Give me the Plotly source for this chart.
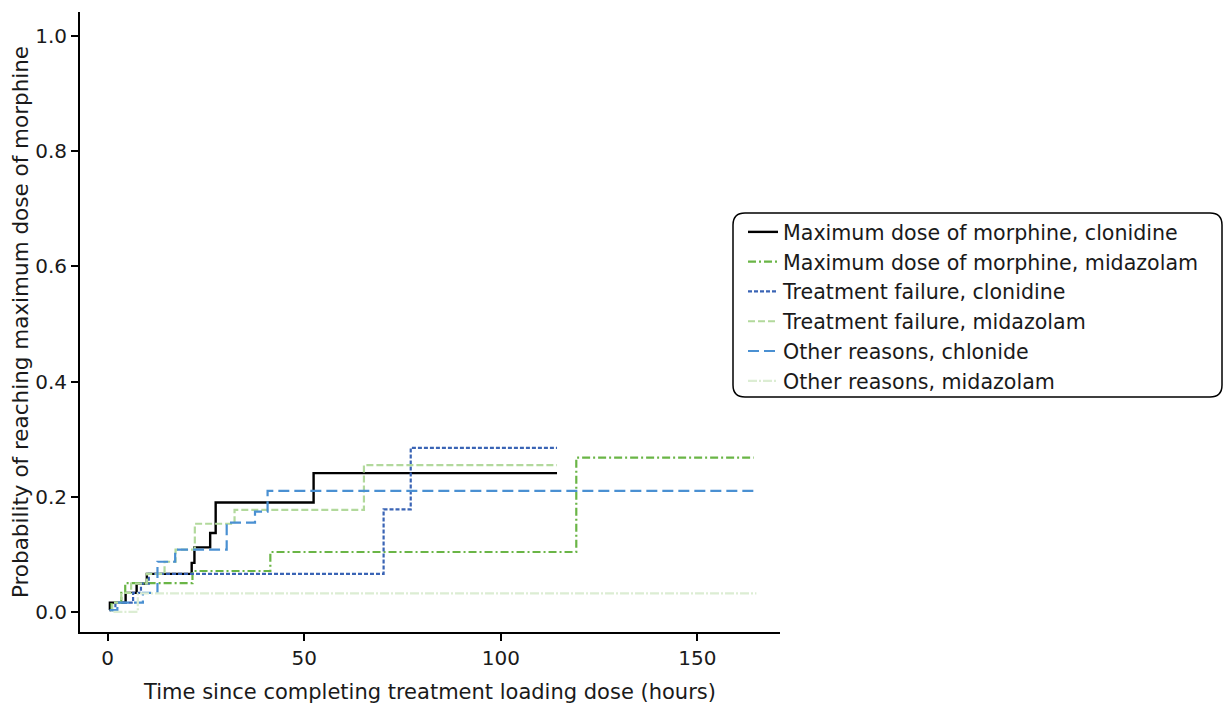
import plotly.graph_objects as go

# ---- data ----
names = [
    "Maximum dose of morphine, clonidine",
    "Maximum dose of morphine, midazolam",
    "Treatment failure, clonidine",
    "Treatment failure, midazolam",
    "Other reasons, chlonide",
    "Other reasons, midazolam",
]

mdc_x = [0.5, 0.6, 4.6, 7.4, 10.0, 21.4, 22.1, 26.1, 27.5, 52.4, 114.3]
mdc_y = [0.003, 0.016, 0.033, 0.049, 0.066, 0.085, 0.112, 0.137, 0.190, 0.241, 0.241]

mdm_x = [0.8, 1.0, 3.5, 4.5, 21.6, 41.4, 119.2, 164.3]
mdm_y = [0.003, 0.016, 0.033, 0.050, 0.071, 0.104, 0.268, 0.268]

tfc_x = [1.2, 2.0, 6.5, 8.5, 10.5, 70.2, 77.1, 114.3]
tfc_y = [0.003, 0.016, 0.033, 0.049, 0.066, 0.178, 0.285, 0.285]

tfm_x = [1.0, 1.2, 3.5, 6.0, 10.0, 14.5, 17.3, 22.2, 32.3, 65.2, 114.3]
tfm_y = [0.003, 0.016, 0.033, 0.049, 0.066, 0.087, 0.108, 0.153, 0.177, 0.255, 0.255]

orc_x = [0.5, 2.5, 9.0, 12.7, 17.2, 30.3, 37.5, 40.7, 165.2]
orc_y = [0.003, 0.016, 0.033, 0.087, 0.108, 0.155, 0.174, 0.210, 0.210]

orm_x = [1.5, 7.7, 165.0]
orm_y = [0.000, 0.032, 0.032]

x_ticks = [0, 50, 100, 150]
y_ticks = [0.0, 0.2, 0.4, 0.6, 0.8, 1.0]

series = [(mdc_x, mdc_y), (mdm_x, mdm_y), (tfc_x, tfc_y),
          (tfm_x, tfm_y), (orc_x, orc_y), (orm_x, orm_y)]
colors = ["#000000", "#6ab546", "#3a64b5", "#b2d99c", "#4a90d2", "#dcedd3"]
dashes = ["solid", "8px,3px,2px,3px", "4px,2px", "7px,3px", "11px,5px", "9px,2px,2px,2px"]
widths = [2.4, 2.2, 2.2, 2.2, 2.2, 2.2]

fig = go.Figure()
for (xs, ys), nm, c, d, w in zip(series, names, colors, dashes, widths):
    fig.add_trace(go.Scatter(x=xs, y=ys, mode="lines", name=nm,
                             line=dict(color=c, dash=d, width=w, shape="hv")))

W, H = 1225, 705
L, R, T, B = 80, 445, 12, 73
pw, ph = W - L - R, H - T - B

# rounded legend box in paper coordinates
bx0, bx1, by0, by1 = 733, 1222, 213, 397
def px(x): return (x - L) / pw
def py(y): return (H - B - y) / ph
rx, ry = 12 / pw, 12 / ph
X0, X1, Y0, Y1 = px(bx0), px(bx1), py(by1), py(by0)
path = (f"M {X0+rx},{Y1} L {X1-rx},{Y1} Q {X1},{Y1} {X1},{Y1-ry} "
        f"L {X1},{Y0+ry} Q {X1},{Y0} {X1-rx},{Y0} L {X0+rx},{Y0} "
        f"Q {X0},{Y0} {X0},{Y0+ry} L {X0},{Y1-ry} Q {X0},{Y1} {X0+rx},{Y1} Z")

font_family = "DejaVu Sans, Noto Sans, sans-serif"
fig.update_layout(
    width=W, height=H,
    margin=dict(l=L, r=R, t=T, b=B, autoexpand=False),
    plot_bgcolor="white", paper_bgcolor="white",
    font=dict(family=font_family, size=20, color="#1a1a1a"),
    shapes=[dict(type="path", xref="paper", yref="paper", path=path,
                 line=dict(color="black", width=1.5), fillcolor="rgba(0,0,0,0)")],
    legend=dict(x=px(bx0) + 10 / pw, y=py(by0) + 1 / ph, xanchor="left", yanchor="top",
                bgcolor="rgba(0,0,0,0)", borderwidth=0,
                font=dict(size=20.6, family=font_family, color="#1a1a1a"),
                tracegroupgap=0),
    showlegend=True,
)
fig.update_xaxes(range=[-7, 171], tickvals=x_ticks, ticktext=[str(v) for v in x_ticks],
                 showline=True, linecolor="black", linewidth=2, showgrid=False,
                 zeroline=False, ticks="outside", ticklen=7, tickwidth=1.5,
                 tickcolor="black", tickfont=dict(size=20), automargin=False,
                 title=dict(text="Time since completing treatment loading dose (hours)",
                            font=dict(size=21), standoff=15))
fig.update_yaxes(range=[-0.035, 1.042], tickvals=y_ticks, tickformat=".1f",
                 showline=True, linecolor="black", linewidth=2, showgrid=False,
                 zeroline=False, ticks="outside", ticklen=7, tickwidth=1.5,
                 tickcolor="black", tickfont=dict(size=20), automargin=False,
                 title=dict(text="Probability of reaching maximum dose of morphine",
                            font=dict(size=21.5), standoff=1))

fig.write_html("out.html")
